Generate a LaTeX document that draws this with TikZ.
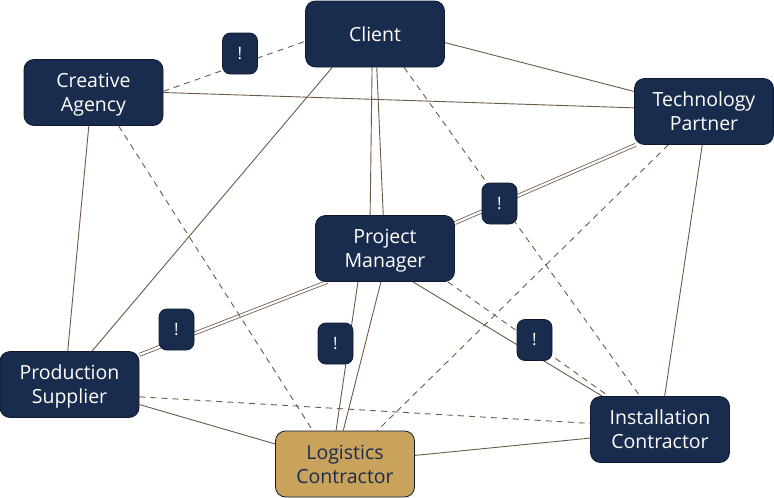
\documentclass[tikz,border=0pt]{standalone}
\usepackage{fontspec}
\setmainfont{Open Sans}
\usetikzlibrary{backgrounds}
\definecolor{navy}{HTML}{192C4E}
\definecolor{navyline}{HTML}{0E1A31}
\definecolor{gold}{HTML}{C9A25B}
\definecolor{wire}{HTML}{6B5B46}
\tikzset{
  party/.style={draw=navyline, line width=0.8pt, fill=navy, text=white,
    rounded corners=10pt, minimum width=139pt, minimum height=66pt,
    inner sep=0pt, align=center, font=\fontsize{19.5}{24}\selectfont,
    text height=19pt, text depth=5pt},
  pair/.style={party, text height=43pt},
  lead/.style={pair, fill=gold, text=navy},
  flag/.style={draw=navyline, line width=0.8pt, fill=navy, text=white,
    rounded corners=8pt, minimum width=35pt, minimum height=41pt,
    inner sep=0pt, font=\fontsize{17}{20}\selectfont},
  link/.style={draw=wire, line width=0.9pt},
  loose/.style={link, dash pattern=on 6pt off 5pt},
  twin/.style={draw=wire, line width=0.8pt, double=white, double distance=2.2pt}
}
\begin{document}
\begin{tikzpicture}[x=1pt, y=-1pt]
  \useasboundingbox (0,0) rectangle (774,498);

  \node[party] (client) at (375,34) {Client};
  \node[pair] (ca) at (93.5,92.5) {Creative\\Agency};
  \node[pair] (tp) at (704,111.5) {Technology\\Partner};
  \node[pair] (pm) at (385,248.5) {Project\\Manager};
  \node[pair] (ps) at (69.5,384.5) {Production\\Supplier};
  \node[lead] (lc) at (345,464) {Logistics\\Contractor};
  \node[pair] (ic) at (660,429.5) {Installation\\Contractor};

  \begin{scope}[on background layer]
    \draw[twin] (pm.20) -- (tp.-154);
    \draw[twin] (pm.-150) -- (ps.23);

    \draw[link] (ca.east) -- (tp.177);
    \draw[link] (client.-7) -- (tp.164);
    \draw[link] (client.-142) -- (ps.56);
    \draw[link] (client.-95) -- (pm.114);
    \draw[link] (client.-87) -- (pm.93);
    \draw[link] (ca.-98) -- (ps.93);
    \draw[link] (pm.-129) -- (lc.105);
    \draw[link] (pm.-97) -- (lc.93);
    \draw[link] (pm.-50) -- (ic.150);
    \draw[link] (tp.-93) -- (ic.82);
    \draw[link] (ps.-16) -- (lc.164);
    \draw[link] (lc.7) -- (ic.-173);

    \draw[loose] (ca.1) -- (client.-174);
    \draw[loose] (ca.-53) -- (lc.134);
    \draw[loose] (client.-49) -- (ic.121);
    \draw[loose] (tp.-137) -- (lc.46);
    \draw[loose] (pm.-28) -- (ic.147);
    \draw[loose] (ps.-10) -- (ic.175);
  \end{scope}

  \node[flag] (f1) at (240,53.5) {!};
  \node[flag] (f2) at (499.5,203.5) {!};
  \node[flag] (f3) at (176.5,329.5) {!};
  \node[flag] (f4) at (335.5,343.5) {!};
  \node[flag] (f5) at (534.5,340) {!};
\end{tikzpicture}
\end{document}
